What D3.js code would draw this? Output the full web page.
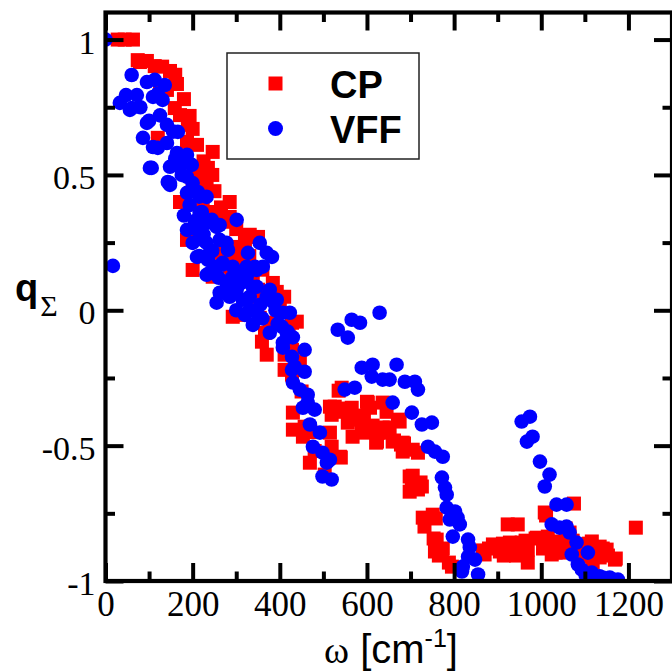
<!DOCTYPE html>
<html>
<head>
<meta charset="utf-8">
<script src="https://cdn.jsdelivr.net/npm/d3@7"></script>
<style>
  html, body { margin: 0; padding: 0; background: #fff; }
  svg { display: block; }
</style>
</head>
<body>
<svg id="chart" width="672" height="672"></svg>
<script>
// ---- data: [omega (cm^-1), q_Sigma] ----
const seriesNames = ["CP", "VFF"];
const cpPoints = [
  [28,1.0],[44,1.0],[63,1.0],[74,0.924],[79,0.917],[95,0.921],[113,0.902],[148,0.884],
  [164,0.836],[125,0.828],[141,0.814],[159,0.747],[171,0.721],[189,0.685],[193,0.718],
  [120,0.637],[187,0.622],[210,0.611],[246,0.585],[235,0.526],[210,0.500],[200,0.463],
  [223,0.482],[232,0.456],[171,0.400],[223,0.400],[285,0.400],[255,0.345],[285,0.345],
  [274,0.327],[239,0.363],[331,0.279],[350,0.271],[193,0.286],[187,0.260],[292,0.234],
  [301,0.231],[262,0.212],[285,0.197],[301,0.186],[304,0.175],[200,0.149],[246,0.124],
  [285,0.161],[308,0.138],[290,0.138],[338,0.113],[324,0.149],[350,0.076],[384,0.101],
  [393,0.068],[350,0.050],[400,0.013],[292,-0.024],[315,-0.017],[354,-0.028],[377,-0.046],
  [439,-0.042],[428,-0.046],[366,-0.083],[359,-0.116],[418,-0.109],[370,-0.164],[411,-0.164],
  [411,-0.220],[439,-0.220],[428,-0.146],[446,-0.190],[428,-0.238],[430,-0.378],[430,-0.441],
  [457,-0.430],[453,-0.467],[515,-0.356],[519,-0.386],[515,-0.452],[519,-0.504],[538,-0.541],
  [469,-0.563],[503,-0.607],[542,-0.286],[526,-0.356],[549,-0.375],[565,-0.360],[567,-0.404],
  [584,-0.393],[600,-0.338],[607,-0.360],[636,-0.341],[588,-0.441],[567,-0.467],[595,-0.452],
  [625,-0.452],[623,-0.485],[652,-0.433],[675,-0.411],[659,-0.485],[682,-0.489],[682,-0.522],
  [705,-0.515],[717,-0.526],[698,-0.614],[726,-0.651],[698,-0.670],[717,-0.662],[645,-0.375],
  [671,-0.404],[636,-0.433],[678,-0.496],[703,-0.655],[728,-0.766],[751,-0.755],[732,-0.799],
  [760,-0.847],[756,-0.891],[772,-0.891],[795,-0.947],[758,-0.769],[753,-0.843],[774,-0.880],
  [765,-0.906],[788,-0.932],[535,-0.297],[535,-0.363],[602,-0.341],[575,-0.389],[556,-0.415],
  [593,-0.408],[613,-0.426],[643,-0.452],[621,-0.489],[662,-0.481],[685,-0.492],[540,-0.544],
  [705,-0.611],[723,-0.636],[870,-0.902],[889,-0.865],[923,-0.791],[946,-0.791],[928,-0.858],
  [935,-0.891],[955,-0.858],[969,-0.884],[905,-0.891],[866,-0.887],[912,-0.862],[964,-0.851],
  [914,-0.906],[942,-0.906],[969,-0.932],[987,-0.843],[1011,-0.758],[1004,-0.880],[1033,-0.895],
  [1075,-0.714],[1056,-0.806],[1072,-0.851],[1109,-0.862],[1102,-0.895],[1141,-0.880],
  [1118,-0.932],[1153,-0.906],[1171,-0.917],[1217,-0.803],[1008,-0.747],[990,-0.840],
  [1015,-0.836],[1035,-0.854],[1065,-0.821],[962,-0.895],[1024,-0.902],[1042,-0.895],
  [1088,-0.865],[1116,-0.854],[1134,-0.873],[1150,-0.884],[1169,-0.921],[1111,-0.910],[1134,-0.913],
  [130,0.900],[160,0.870],[180,0.780],[200,0.670],[225,0.550],[245,0.500],[250,0.440],
  [265,0.380],[300,0.300],[320,0.250],[330,0.200],[360,0.150],[410,0.050],[420,-0.080],
  [450,-0.300],[470,-0.450],[480,-0.520],[880,-0.880],[950,-0.900],[1060,-0.870],[1090,-0.900]
];
const vffPoints = [
  [0,1.0],[17,0.164],[60,0.869],[47,0.795],[33,0.766],[60,0.747],[56,0.740],[95,0.843],
  [113,0.851],[136,0.832],[109,0.788],[131,0.777],[72,0.795],[95,0.692],[141,0.685],[166,0.659],
  [86,0.637],[109,0.603],[141,0.618],[164,0.581],[187,0.574],[102,0.526],[148,0.530],[171,0.530],
  [187,0.493],[143,0.474],[148,0.463],[187,0.434],[200,0.445],[232,0.419],[193,0.389],[216,0.360],
  [301,0.334],[187,0.297],[210,0.297],[232,0.323],[200,0.249],[232,0.249],[255,0.308],[262,0.260],
  [210,0.197],[239,0.212],[269,0.175],[232,0.131],[255,0.161],[281,0.223],[292,0.161],[327,0.212],
  [354,0.249],[370,0.212],[382,0.197],[361,0.161],[324,0.161],[262,0.065],[292,0.076],[315,0.039],
  [338,0.087],[331,0.002],[255,0.028],[370,0.050],[393,0.039],[407,-0.009],[423,-0.009],
  [338,-0.054],[377,-0.083],[416,-0.083],[106,0.526],[177,0.548],[198,0.537],[148,0.470],
  [189,0.434],[212,0.437],[221,0.363],[244,0.334],[262,0.315],[223,0.260],[278,0.249],
  [235,0.186],[267,0.168],[239,0.138],[301,0.142],[324,0.124],[347,0.149],[278,0.101],
  [301,0.076],[347,0.087],[377,0.076],[285,0.050],[331,0.050],[343,0.161],[384,0.031],
  [320,-0.017],[347,-0.009],[400,-0.009],[405,-0.061],[418,-0.079],[407,-0.120],[407,-0.138],
  [457,-0.146],[428,-0.172],[434,-0.208],[457,-0.227],[428,-0.220],[430,-0.267],[446,-0.293],
  [464,-0.312],[464,-0.341],[480,-0.367],[453,-0.360],[469,-0.422],[492,-0.452],[476,-0.504],
  [498,-0.526],[508,-0.563],[515,-0.552],[498,-0.614],[519,-0.625],
  [533,-0.072],[556,-0.101],[565,-0.035],[584,-0.046],[629,-0.009],[549,-0.293],[572,-0.286],
  [588,-0.212],[613,-0.201],[611,-0.245],[636,-0.256],[652,-0.256],[668,-0.201],[687,-0.264],
  [710,-0.264],[717,-0.293],[659,-0.341],[703,-0.378],[726,-0.422],[749,-0.415],[740,-0.504],
  [756,-0.522],[774,-0.541],[772,-0.618],[779,-0.655],[783,-0.681],[783,-0.729],[802,-0.743],
  [790,-0.773],[808,-0.766],[813,-0.791],[797,-0.836],[832,-0.847],[836,-0.876],[832,-0.910],
  [848,-0.921],[820,-0.947],[818,-0.965],[855,-0.976],
  [955,-0.411],[974,-0.393],[967,-0.485],[980,-0.467],[997,-0.559],[1019,-0.607],[1008,-0.651],
  [1035,-0.718],[1058,-0.718],[1024,-0.791],[1042,-0.803],[1058,-0.799],[1065,-0.821],
  [1081,-0.858],[1070,-0.902],[1107,-0.895],[1084,-0.939],[1093,-0.958],[1116,-0.969],
  [1134,-0.983],[1157,-0.987],[1176,-0.995],[1141,-0.987],[1102,-0.980],
  [120,0.800],[80,0.750],[100,0.700],[125,0.720],[155,0.660],[120,0.600],[160,0.560],
  [175,0.500],[200,0.470],[215,0.420],[180,0.350],[205,0.330],[225,0.280],[245,0.220],
  [215,0.200],[260,0.120],[290,0.120],[310,0.100],[300,0.000],[355,0.020],[390,0.000],
  [360,-0.030],[395,-0.050],[430,-0.100]
];
const xMajorTicks = [0, 200, 400, 600, 800, 1000, 1200];
const xMinorTicks = [100, 300, 500, 700, 900, 1100];
const xTickLabels = ["0", "200", "400", "600", "800", "1000", "1200"];
const yMajorTicks = [-1, -0.5, 0, 0.5, 1];
const yMinorTicks = [-0.75, -0.25, 0.25, 0.75];
const yTickLabels = ["-1", "-0.5", "0", "0.5", "1"];
const xDomain = [0, 1300];
const yDomain = [-1, 1.1];

// ---- layout ----
const svg = d3.select("#chart");
const L = 105.5, R = 672, T = 12.5, B = 581;
const x = d3.scaleLinear().domain(xDomain).range([L, R]);
const y = d3.scaleLinear().domain(yDomain).range([B, T]);

const serif = "'Liberation Serif','Times New Roman',serif";
const sans = "'Liberation Sans',Arial,Helvetica,sans-serif";
const majorLen = 18, minorLen = 9.5, tickW = 4;

svg.append("defs").append("clipPath").attr("id", "clip")
  .append("rect").attr("x", L).attr("y", T).attr("width", R - L).attr("height", B - T);

const plot = svg.append("g").attr("clip-path", "url(#clip)");

// CP squares
const sq = 14;
plot.append("g").selectAll("rect").data(cpPoints).join("rect")
  .attr("x", d => x(d[0]) - sq / 2).attr("y", d => y(d[1]) - sq / 2)
  .attr("width", sq).attr("height", sq).attr("fill", "#ff0000");

// VFF circles
plot.append("g").selectAll("circle").data(vffPoints).join("circle")
  .attr("cx", d => x(d[0])).attr("cy", d => y(d[1])).attr("r", 7.3)
  .attr("fill", "#0000ff");

function styleAxis(g) {
  g.select(".domain").remove();
  g.selectAll(".tick line").attr("stroke", "#000").attr("stroke-width", tickW);
}
function fmtFrom(ticks, labels) {
  return v => { const i = ticks.indexOf(v); return i >= 0 ? labels[i] : ""; };
}

// bottom
const gB = svg.append("g").attr("transform", `translate(0,${B})`)
  .call(d3.axisBottom(x).tickValues(xMajorTicks).tickSizeInner(-majorLen).tickSizeOuter(0)
    .tickPadding(10).tickFormat(fmtFrom(xMajorTicks, xTickLabels)));
styleAxis(gB);
gB.selectAll("text").attr("font-family", serif).attr("font-size", 35).attr("fill", "#000")
  .attr("dy", "0.71em");
svg.append("g").attr("transform", `translate(0,${B})`)
  .call(d3.axisBottom(x).tickValues(xMinorTicks).tickSizeInner(-minorLen).tickSizeOuter(0).tickFormat(""))
  .call(styleAxis);

// top
svg.append("g").attr("transform", `translate(0,${T})`)
  .call(d3.axisTop(x).tickValues(xMajorTicks).tickSizeInner(-majorLen).tickSizeOuter(0).tickFormat(""))
  .call(styleAxis);
svg.append("g").attr("transform", `translate(0,${T})`)
  .call(d3.axisTop(x).tickValues(xMinorTicks).tickSizeInner(-minorLen).tickSizeOuter(0).tickFormat(""))
  .call(styleAxis);

// left
const gL = svg.append("g").attr("transform", `translate(${L},0)`)
  .call(d3.axisLeft(y).tickValues(yMajorTicks).tickSizeInner(-majorLen).tickSizeOuter(0)
    .tickPadding(10).tickFormat(fmtFrom(yMajorTicks, yTickLabels)));
styleAxis(gL);
gL.selectAll("text").attr("font-family", serif).attr("font-size", 34).attr("fill", "#000")
  .attr("dy", "0.4em");
svg.append("g").attr("transform", `translate(${L},0)`)
  .call(d3.axisLeft(y).tickValues(yMinorTicks).tickSizeInner(-minorLen).tickSizeOuter(0).tickFormat(""))
  .call(styleAxis);

// right
svg.append("g").attr("transform", `translate(${R},0)`)
  .call(d3.axisRight(y).tickValues(yMajorTicks).tickSizeInner(-majorLen).tickSizeOuter(0).tickFormat(""))
  .call(styleAxis);
svg.append("g").attr("transform", `translate(${R},0)`)
  .call(d3.axisRight(y).tickValues(yMinorTicks).tickSizeInner(-minorLen).tickSizeOuter(0).tickFormat(""))
  .call(styleAxis);

// frame
svg.append("rect").attr("x", L).attr("y", T).attr("width", R - L).attr("height", B - T)
  .attr("fill", "none").attr("stroke", "#000").attr("stroke-width", 4.2);

// legend
const lg = svg.append("g");
lg.append("rect").attr("x", 227).attr("y", 53).attr("width", 192).attr("height", 106)
  .attr("fill", "#fff").attr("stroke", "#222").attr("stroke-width", 1.5);
lg.append("rect").attr("x", 275.5 - sq / 2).attr("y", 83.5 - sq / 2).attr("width", sq).attr("height", sq)
  .attr("fill", "#ff0000");
lg.append("circle").attr("cx", 275.5).attr("cy", 128.5).attr("r", 7.5).attr("fill", "#0000ff");
lg.append("text").attr("x", 330).attr("y", 98).text(seriesNames[0])
  .attr("font-family", sans).attr("font-weight", "bold").attr("font-size", 38);
lg.append("text").attr("x", 330).attr("y", 143).text(seriesNames[1])
  .attr("font-family", sans).attr("font-weight", "bold").attr("font-size", 38);

// y title: q_Σ
const yt = svg.append("text").attr("x", 15).attr("y", 301);
yt.append("tspan").attr("font-family", sans).attr("font-weight", "bold").attr("font-size", 38).text("q");
yt.append("tspan").attr("font-family", serif).attr("font-size", 30).attr("dx", 2).attr("dy", 15).text("Σ");

// x title: ω [cm^-1]
const xt = svg.append("text").attr("x", 391).attr("y", 663).attr("text-anchor", "middle");
xt.append("tspan").attr("font-family", serif).attr("font-size", 38).text("ω");
xt.append("tspan").attr("font-family", sans).attr("font-size", 40).text(" [cm");
xt.append("tspan").attr("font-family", sans).attr("font-size", 25).attr("dy", -16).text("-1");
xt.append("tspan").attr("font-family", sans).attr("font-size", 40).attr("dy", 16).text("]");
</script>
</body>
</html>
